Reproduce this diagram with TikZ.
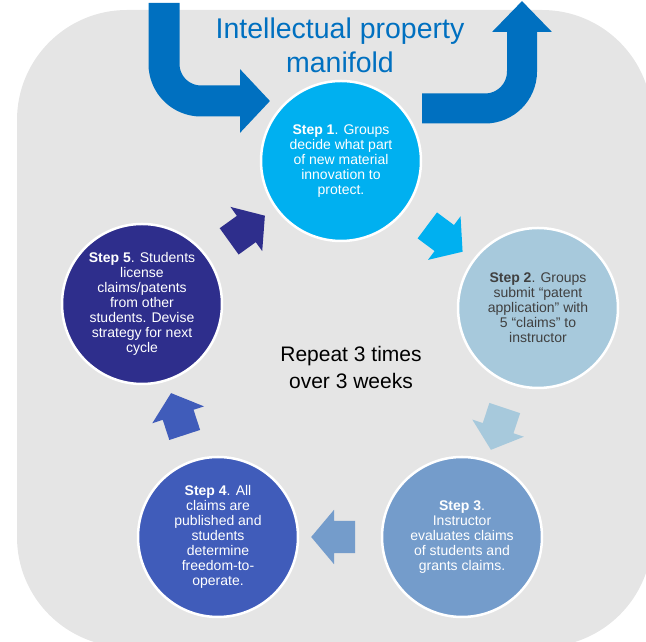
\documentclass[tikz,border=0pt]{standalone}
\usepackage{fontspec}
\setmainfont{Liberation Sans}
\usetikzlibrary{arrows.meta,shapes.arrows}

\definecolor{bggray}{HTML}{E5E5E5}
\definecolor{ipblue}{HTML}{0070C0}
\definecolor{stepone}{HTML}{00B0F0}
\definecolor{steptwo}{HTML}{A7C9DC}
\definecolor{stepthree}{HTML}{749CCB}
\definecolor{stepfour}{HTML}{405CBA}
\definecolor{stepfive}{HTML}{2E2E8C}
\definecolor{darktext}{HTML}{404040}

\tikzset{
	stepnode/.style={shape=circle, draw=white, line width=2.5pt, minimum size=160pt, inner sep=0pt, align=center, text=white, font=\fontsize{14}{15}\selectfont},
	cyclearrow/.style={shape=single arrow, draw=none, minimum height=44pt, inner xsep=0pt, inner ysep=16pt, single arrow head extend=11pt, single arrow tip angle=100, midway, sloped, allow upside down},
	bigarrow/.style={draw=ipblue, line width=31pt, rounded corners=37pt}
}

\begin{document}
\begin{tikzpicture}[x=1pt, y=1pt]
	\useasboundingbox (0,0) rectangle (646,642);
	\fill[bggray, rounded corners=110pt] (17,-5) rectangle (652,632);

	\node[text=ipblue, align=center, font=\fontsize{28.5}{34}\selectfont, inner sep=0pt] (title) at (340,597) {Intellectual property\\manifold};

	\coordinate (ipin)    at (164,639);
	\coordinate (ipintip) at (270,541);
	\coordinate (ipout)   at (422,533.5);
	\coordinate (ipouttip) at (522,641);

	\draw[bigarrow, -{Triangle[width=62pt, length=30pt]}] (ipin) |- (ipintip);
	\draw[bigarrow, line width=30pt, -{Triangle[width=58pt, length=31pt]}] (ipout) -| (ipouttip);

	\node[stepnode, fill=stepone]   (s1) at (341,481) {\textbf{Step 1}. Groups\\decide what part\\of new material\\innovation to\\protect.};
	\node[stepnode, fill=steptwo, text=darktext] (s2) at (538,334) {\textbf{Step 2}. Groups\\submit “patent\\application” with\\5 “claims” to\\instructor};
	\node[stepnode, fill=stepthree] (s3) at (462,105) {\textbf{Step 3}.\\Instructor\\evaluates claims\\of students and\\grants claims.};
	\node[stepnode, fill=stepfour]  (s4) at (218,105) {\textbf{Step 4}. All\\claims are\\published and\\students\\determine\\freedom-to-\\operate.};
	\node[stepnode, fill=stepfive]  (s5) at (142,338) {\textbf{Step 5}. Students\\license\\claims/patents\\from other\\students. Devise\\strategy for next\\cycle};

	\path (s1) -- (s2) node[cyclearrow, fill=stepone] {};
	\path (s2) -- (s3) node[cyclearrow, fill=steptwo] {};
	\path (s3) -- (s4) node[cyclearrow, fill=stepthree] {};
	\path (s4) -- (s5) node[cyclearrow, fill=stepfour] {};
	\path (s5) -- (s1) node[cyclearrow, fill=stepfive] {};

	\node[align=center, font=\fontsize{21}{27}\selectfont, inner sep=0pt] (repeat) at (351,274) {Repeat 3 times\\over 3 weeks};
\end{tikzpicture}
\end{document}
